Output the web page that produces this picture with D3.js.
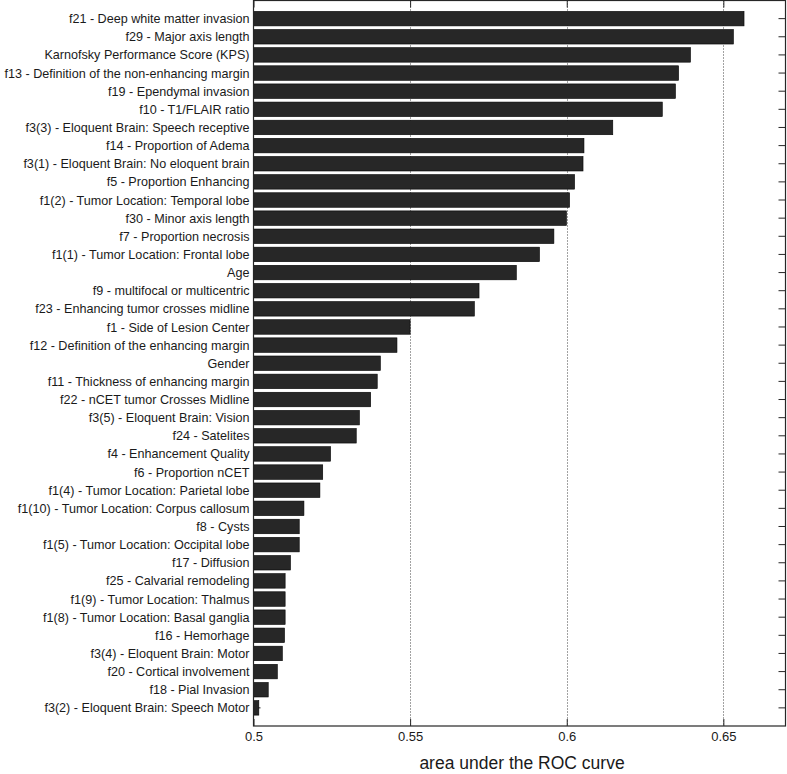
<!DOCTYPE html>
<html>
<head>
<meta charset="utf-8">
<script src="https://cdn.jsdelivr.net/npm/d3@7"></script>
<style>
  body { margin: 0; background: #fff; }
  text { font-family: "Liberation Sans", Arial, sans-serif; fill: #1a1a1a; }
</style>
</head>
<body>
<div id="chart"></div>
<script>
var features = [
  "f21 - Deep white matter invasion",
  "f29 - Major axis length",
  "Karnofsky Performance Score (KPS)",
  "f13 - Definition of the non-enhancing margin",
  "f19 - Ependymal invasion",
  "f10 - T1/FLAIR ratio",
  "f3(3) - Eloquent Brain: Speech receptive",
  "f14 - Proportion of Adema",
  "f3(1) - Eloquent Brain: No eloquent brain",
  "f5 - Proportion Enhancing",
  "f1(2) - Tumor Location: Temporal lobe",
  "f30 - Minor axis length",
  "f7 - Proportion necrosis",
  "f1(1) - Tumor Location: Frontal lobe",
  "Age",
  "f9 - multifocal or multicentric",
  "f23 - Enhancing tumor crosses midline",
  "f1 - Side of Lesion Center",
  "f12 - Definition of the enhancing margin",
  "Gender",
  "f11 - Thickness of enhancing margin",
  "f22 - nCET tumor Crosses Midline",
  "f3(5) - Eloquent Brain: Vision",
  "f24 - Satelites",
  "f4 - Enhancement Quality",
  "f6 - Proportion nCET",
  "f1(4) - Tumor Location: Parietal lobe",
  "f1(10) - Tumor Location: Corpus callosum",
  "f8 - Cysts",
  "f1(5) - Tumor Location: Occipital lobe",
  "f17 - Diffusion",
  "f25 - Calvarial remodeling",
  "f1(9) - Tumor Location: Thalmus",
  "f1(8) - Tumor Location: Basal ganglia",
  "f16 - Hemorhage",
  "f3(4) - Eloquent Brain: Motor",
  "f20 - Cortical involvement",
  "f18 - Pial Invasion",
  "f3(2) - Eloquent Brain: Speech Motor"
];

var auc = [
  0.6566, 0.6532, 0.6395, 0.6357, 0.6347, 0.6305, 0.6147, 0.6055, 0.6052, 0.6025,
  0.6009, 0.5999, 0.5959, 0.5913, 0.5839, 0.5720, 0.5705, 0.5500, 0.5458, 0.5405,
  0.5395, 0.5374, 0.5338, 0.5328, 0.5246, 0.5221, 0.5212, 0.5161, 0.5146, 0.5146,
  0.5118, 0.5101, 0.5101, 0.5101, 0.5099, 0.5092, 0.5076, 0.5047, 0.5017
];

var xTicks = [0.5, 0.55, 0.6, 0.65];
var xLabel = "area under the ROC curve";

var width = 787, height = 774;
var plotLeft = 253.5, plotRight = 786, plotTop = 0.5, plotBottom = 726;
var tickLen = 7;

var data = features.map(function(f, i) { return { name: f, value: auc[i], pos: i + 1 }; });

var xScale = d3.scaleLinear().domain([0.5, 0.67]).range([plotLeft, plotRight]);
var yScale = d3.scaleLinear().domain([0, 40]).range([plotTop, plotBottom]);

var svg = d3.select("#chart").append("svg")
  .attr("width", width)
  .attr("height", height);

/* dotted grid */
svg.append("g")
  .selectAll("line")
  .data(xTicks.slice(1)).enter()
  .append("line")
  .attr("x1", d => Math.round(xScale(d)) + 0.5)
  .attr("x2", d => Math.round(xScale(d)) + 0.5)
  .attr("y1", plotTop)
  .attr("y2", plotBottom)
  .attr("stroke", "#444")
  .attr("stroke-width", 1)
  .attr("stroke-dasharray", "1,2");

/* inner ticks on left and right */
var yTickPos = d3.range(1, 40);
svg.append("g").selectAll("line")
  .data(yTickPos).enter()
  .append("line")
  .attr("x1", plotLeft).attr("x2", plotLeft + tickLen)
  .attr("y1", d => yScale(d)).attr("y2", d => yScale(d))
  .attr("stroke", "#262626");
svg.append("g").selectAll("line")
  .data(yTickPos).enter()
  .append("line")
  .attr("x1", plotRight - 0.5 - tickLen).attr("x2", plotRight - 0.5)
  .attr("y1", d => yScale(d)).attr("y2", d => yScale(d))
  .attr("stroke", "#262626");

/* bars */
var barH = yScale(0.8) - yScale(0);
svg.append("g")
  .selectAll("rect")
  .data(data).enter()
  .append("rect")
  .attr("x", xScale(0.5))
  .attr("y", d => yScale(d.pos) - barH / 2)
  .attr("width", d => xScale(d.value) - xScale(0.5))
  .attr("height", barH)
  .attr("fill", "#272727")
  .attr("stroke", "#000")
  .attr("stroke-width", 0.6);

/* y labels */
svg.append("g")
  .selectAll("text")
  .data(data).enter()
  .append("text")
  .attr("x", plotLeft - 4)
  .attr("y", d => yScale(d.pos))
  .attr("dy", "0.36em")
  .attr("text-anchor", "end")
  .style("font-size", "12.6px")
  .text(d => d.name);

/* x axis ticks bottom and top */
var xAxisB = d3.axisBottom(xScale).tickValues(xTicks).tickSize(-tickLen).tickPadding(6)
  .tickFormat(d3.format("~g"));
var gB = svg.append("g")
  .attr("transform", `translate(0, ${plotBottom})`)
  .call(xAxisB);
gB.select(".domain").remove();
gB.selectAll("line").attr("stroke", "#262626");
gB.selectAll("text").style("font-size", "13px").attr("fill", "#1a1a1a")
  .style("font-family", "'Liberation Sans', Arial, sans-serif");

var xAxisT = d3.axisTop(xScale).tickValues(xTicks).tickSize(-tickLen).tickFormat("");
var gT = svg.append("g")
  .attr("transform", `translate(0, ${plotTop})`)
  .call(xAxisT);
gT.select(".domain").remove();
gT.selectAll("line").attr("stroke", "#262626");

/* box */
svg.append("rect")
  .attr("x", plotLeft)
  .attr("y", plotTop)
  .attr("width", plotRight - 0.5 - plotLeft)
  .attr("height", plotBottom - plotTop)
  .attr("fill", "none")
  .attr("stroke", "#262626")
  .attr("stroke-width", 1.2);

/* x label */
svg.append("text")
  .attr("x", 522)
  .attr("y", 769)
  .attr("text-anchor", "middle")
  .style("font-size", "17.5px")
  .text(xLabel);
</script>
</body>
</html>
